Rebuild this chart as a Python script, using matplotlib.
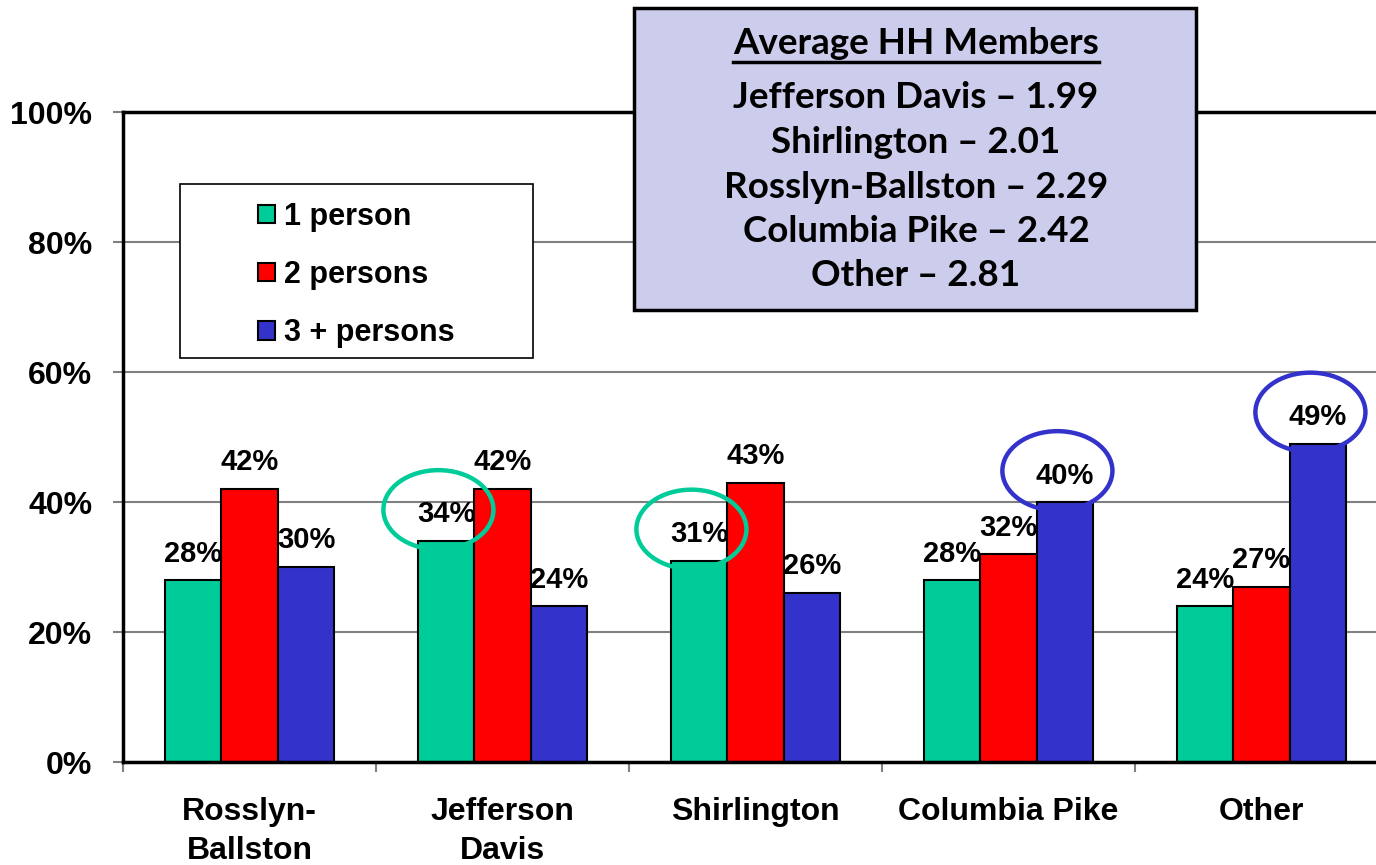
import numpy as np
import matplotlib.pyplot as plt
from matplotlib.patches import Rectangle, Ellipse, Patch

# data
areas = ["Rosslyn-\nBallston", "Jefferson\nDavis", "Shirlington", "Columbia Pike", "Other"]
one_person = [28, 34, 31, 28, 24]
two_persons = [42, 42, 43, 32, 27]
three_plus = [30, 24, 26, 40, 49]
series_names = ["1 person", "2 persons", "3 + persons"]
colors = ["#00CC99", "#FF0000", "#3333CC"]
avg_lines = ["Jefferson Davis \u2013 1.99", "Shirlington \u2013 2.01",
             "Rosslyn-Ballston \u2013 2.29", "Columbia Pike \u2013 2.42",
             "Other \u2013 2.81"]
# (group index, series index, ring colour) for the highlighted labels
highlights = [(1, 0, "#00CC99"), (2, 0, "#00CC99"), (3, 2, "#3333CC"), (4, 2, "#3333CC")]

W, H = 1376, 865
fig = plt.figure(figsize=(W / 100, H / 100), dpi=100)
plt.rcParams["font.family"] = ["Liberation Sans", "DejaVu Sans"]

ax = fig.add_axes([123 / W, 103 / H, (W - 123) / W, 650 / H])

x = np.arange(len(areas))
bw = 0.2233
data = [one_person, two_persons, three_plus]
for i, vals in enumerate(data):
    pos = x + (i - 1) * bw
    ax.bar(pos, vals, bw, color=colors[i], edgecolor="black", linewidth=1.5, zorder=3)
    for px, v in zip(pos, vals):
        ax.annotate(f"{v}%", (px, v), xytext=(0, 9), textcoords="offset points",
                    ha="center", va="bottom", fontsize=21, fontweight="bold", zorder=5)

# rings around chosen labels
for g, s, c in highlights:
    cx = x[g] + (s - 1) * bw - 0.03
    cy = data[s][g] + 4.8
    ax.add_patch(Ellipse((cx, cy), 0.435, 12.2, fill=False, edgecolor=c,
                         linewidth=3.2, zorder=6, clip_on=False))

ax.set_yticks(np.arange(0, 101, 20))
ax.set_yticklabels([f"{t}%" for t in range(0, 101, 20)])
ax.yaxis.grid(True, color="#808080", linewidth=1.5, zorder=0)
ax.tick_params(axis="y", length=7, width=1.5, color="#808080", pad=15,
               labelsize=23)
for lab in ax.get_yticklabels():
    lab.set_fontweight("bold")

ax.set_xticks(x)
ax.set_xticklabels(areas, fontsize=23, fontweight="bold", linespacing=1.42)
ax.set_xticks(np.arange(-0.5, len(areas) - 0.5, 1), minor=True)
ax.tick_params(axis="x", which="major", length=0, pad=25)
ax.tick_params(axis="x", which="minor", length=7, width=1.5, color="#808080")

# limits last so tick setting does not widen them
ax.set_xlim(-0.5, -0.5 + (W - 123) / 253)
ax.set_ylim(0, 100)

ax.spines["right"].set_visible(False)
for sp in ["left", "bottom", "top"]:
    ax.spines[sp].set_linewidth(2.5)
    ax.spines[sp].set_zorder(4)

# legend: frame drawn separately, entries centred inside it
lx0, ly0, lx1, ly1 = 180, 184, 533, 358
fig.patches.append(Rectangle((lx0 / W, 1 - ly1 / H), (lx1 - lx0) / W, (ly1 - ly0) / H,
                             transform=fig.transFigure, facecolor="white",
                             edgecolor="black", linewidth=1.2, zorder=10))
handles = [Patch(facecolor=c, edgecolor="black", linewidth=1.5) for c in colors]
leg = fig.legend(handles, series_names, loc="center",
                 bbox_to_anchor=((lx0 + lx1) / 2 / W, 1 - ((ly0 + ly1) / 2 + 4) / H),
                 frameon=False, handlelength=0.55, handleheight=0.55,
                 handletextpad=0.3, labelspacing=0.92,
                 prop={"size": 22, "weight": "bold"})
leg.set_zorder(11)

# average household members box
bx0, by0, bx1, by1 = 634, 8, 1196, 310
fig.patches.append(Rectangle((bx0 / W, 1 - by1 / H), (bx1 - bx0) / W, (by1 - by0) / H,
                             transform=fig.transFigure, facecolor="#CCCCEC",
                             edgecolor="black", linewidth=2.5, zorder=10))
box_font = ["Lato", "DejaVu Sans"]
cx = 916 / W
title = fig.text(cx, 1 - 44 / H, "Average HH Members", ha="center", va="center",
                 fontsize=26.5, fontweight="bold", family=box_font, zorder=12)
for k, line in enumerate(avg_lines):
    fig.text(cx, 1 - (98 + 44.5 * k) / H, line, ha="center", va="center",
             fontsize=26.5, fontweight="bold", family=box_font, zorder=12)

fig.canvas.draw()
bb = title.get_window_extent().transformed(fig.transFigure.inverted())
fig.add_artist(plt.Line2D([bb.x0, bb.x1], [1 - 62 / H, 1 - 62 / H],
                          transform=fig.transFigure, color="black",
                          linewidth=2.5, zorder=12))

fig.savefig("out.png", dpi=100)
